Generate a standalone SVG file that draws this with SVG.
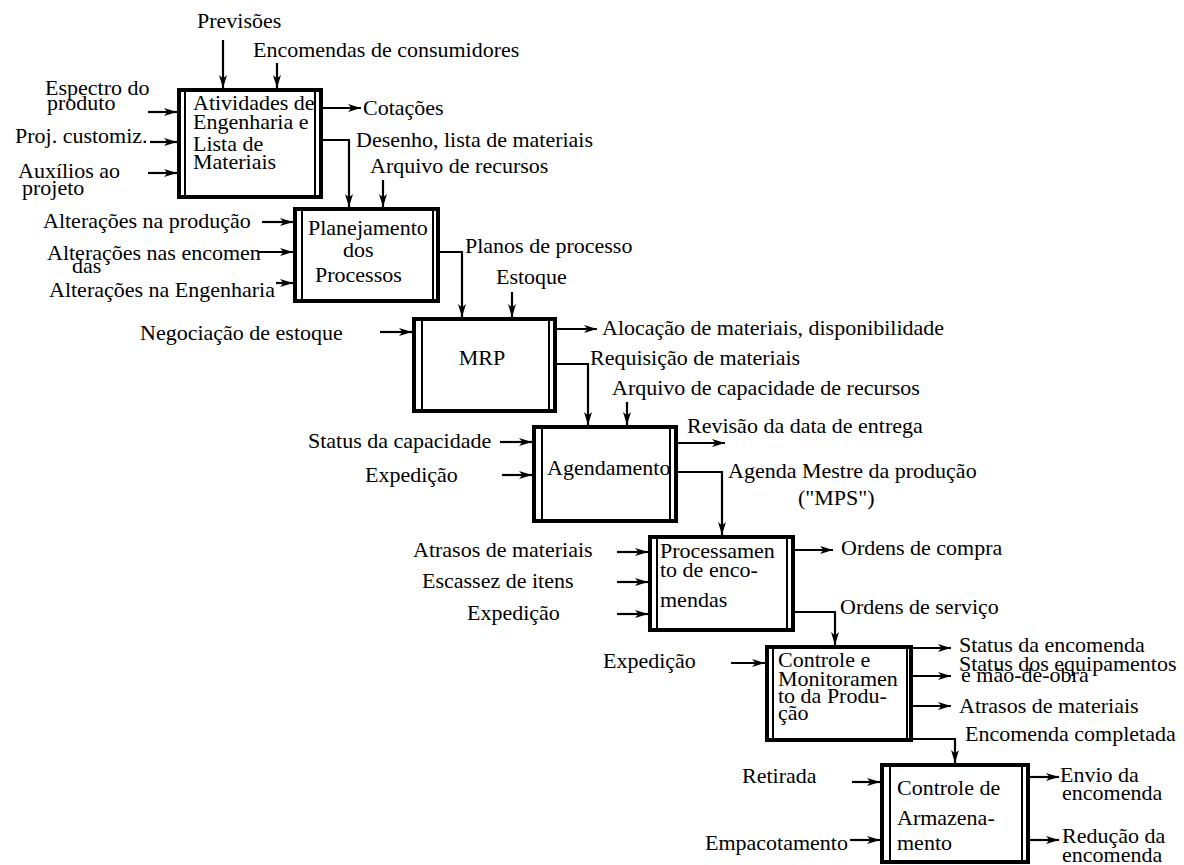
<svg xmlns="http://www.w3.org/2000/svg" width="1184" height="865" viewBox="0 0 1184 865" font-family="'Liberation Serif', 'Times New Roman', serif">
  <style>
    text { font-family: "Liberation Serif", "Times New Roman", serif; font-size: 22px; fill: #000; }
    .box { fill: #fff; stroke: #000; stroke-width: 4; }
    .inner { stroke: #000; stroke-width: 2; fill: none; }
    .flow { stroke: #000; stroke-width: 2.2; fill: none; marker-end: url(#arrow); }
  </style>
  <defs>
    <marker id="arrow" markerUnits="userSpaceOnUse" markerWidth="14" markerHeight="10" refX="13" refY="5" orient="auto">
      <path d="M0,1 L13,5 L0,9 L3.5,5 Z" fill="#000"/>
    </marker>
  </defs>
  <rect width="1184" height="865" fill="#fff"/>

  <!-- connectors: inputs, outputs and links between the activities -->
  <g id="connectors">
    <path class="flow" d="M223,40 V88"/>
    <path class="flow" d="M277,63 V88"/>
    <path class="flow" d="M148,112 H177"/>
    <path class="flow" d="M150,142 H177"/>
    <path class="flow" d="M148,173 H177"/>
    <path class="flow" d="M323,108 H361"/>
    <path class="flow" d="M323,140 H349 V207"/>
    <path class="flow" d="M383,180 V207"/>
    <path class="flow" d="M262,222 H293"/>
    <path class="flow" d="M258,252 H293"/>
    <path class="flow" d="M276,283 H293"/>
    <path class="flow" d="M440,252 H462 V317"/>
    <path class="flow" d="M512,292 V317"/>
    <path class="flow" d="M380,332 H412"/>
    <path class="flow" d="M557,329 H597"/>
    <path class="flow" d="M557,364 H588 V425"/>
    <path class="flow" d="M627,402 V425"/>
    <path class="flow" d="M500,442 H532"/>
    <path class="flow" d="M502,475 H532"/>
    <path class="flow" d="M678,443 H725"/>
    <path class="flow" d="M678,472 H722 V535"/>
    <path class="flow" d="M617,552 H648"/>
    <path class="flow" d="M617,582 H648"/>
    <path class="flow" d="M617,614 H648"/>
    <path class="flow" d="M795,550 H833"/>
    <path class="flow" d="M795,612 H835 V645"/>
    <path class="flow" d="M731,663 H765"/>
    <path class="flow" d="M913,648 H951"/>
    <path class="flow" d="M913,676 H951"/>
    <path class="flow" d="M913,706 H951"/>
    <path class="flow" d="M913,739 H955 V763"/>
    <path class="flow" d="M852,782 H880"/>
    <path class="flow" d="M850,840 H880"/>
    <path class="flow" d="M1030,777 H1059"/>
    <path class="flow" d="M1030,840 H1059"/>
  </g>

  <!-- connector labels -->
  <g id="labels">
    <text x="197" y="28">Previsões</text>
    <text x="253" y="57">Encomendas de consumidores</text>
    <text x="45" y="95">Espectro do</text>
    <text x="47" y="110">produto</text>
    <text x="15" y="143">Proj. customiz.</text>
    <text x="18" y="178">Auxílios ao</text>
    <text x="22" y="195">projeto</text>
    <text x="363" y="115">Cotações</text>
    <text x="356" y="147">Desenho, lista de materiais</text>
    <text x="370" y="173">Arquivo de recursos</text>
    <text x="43" y="228">Alterações na produção</text>
    <text x="47" y="260">Alterações nas encomen</text>
    <text x="72" y="273">das</text>
    <text x="49" y="297">Alterações na Engenharia</text>
    <text x="465" y="253">Planos de processo</text>
    <text x="496" y="284">Estoque</text>
    <text x="140" y="340">Negociação de estoque</text>
    <text x="602" y="335">Alocação de materiais, disponibilidade</text>
    <text x="590" y="365">Requisição de materiais</text>
    <text x="612" y="395">Arquivo de capacidade de recursos</text>
    <text x="308" y="448">Status da capacidade</text>
    <text x="365" y="482">Expedição</text>
    <text x="687" y="433">Revisão da data de entrega</text>
    <text x="728" y="478">Agenda Mestre da produção</text>
    <text x="798" y="505">("MPS")</text>
    <text x="413" y="557">Atrasos de materiais</text>
    <text x="422" y="588">Escassez de itens</text>
    <text x="467" y="620">Expedição</text>
    <text x="841" y="555">Ordens de compra</text>
    <text x="840" y="614">Ordens de serviço</text>
    <text x="603" y="668">Expedição</text>
    <text x="959" y="652">Status da encomenda</text>
    <text x="959" y="671">Status dos equipamentos</text>
    <text x="961" y="682">e mão-de-obra</text>
    <text x="959" y="713">Atrasos de materiais</text>
    <text x="965" y="741">Encomenda completada</text>
    <text x="742" y="783">Retirada</text>
    <text x="705" y="850">Empacotamento</text>
    <text x="1060" y="782">Envio da</text>
    <text x="1062" y="800">encomenda</text>
    <text x="1062" y="843">Redução da</text>
    <text x="1062" y="862">encomenda</text>
  </g>

  <!-- activity boxes -->
  <g id="engenharia">
    <rect class="box" x="179" y="90" width="142" height="107"/>
    <path class="inner" d="M185,90 V197 M315,90 V197"/>
    <text x="193" y="110">Atividades de</text>
    <text x="193" y="129">Engenharia e</text>
    <text x="193" y="151">Lista de</text>
    <text x="193" y="169">Materiais</text>
  </g>
  <g id="planejamento">
    <rect class="box" x="295" y="209" width="143" height="92"/>
    <path class="inner" d="M302,209 V301 M433,209 V301"/>
    <text x="308" y="235">Planejamento</text>
    <text x="343" y="257">dos</text>
    <text x="315" y="282">Processos</text>
  </g>
  <g id="mrp">
    <rect class="box" x="414" y="319" width="141" height="92"/>
    <path class="inner" d="M422,319 V411 M549,319 V411"/>
    <text x="482" y="365" text-anchor="middle">MRP</text>
  </g>
  <g id="agendamento">
    <rect class="box" x="534" y="427" width="142" height="94"/>
    <path class="inner" d="M542,427 V521 M670,427 V521"/>
    <text x="547" y="475">Agendamento</text>
  </g>
  <g id="processamento">
    <rect class="box" x="650" y="537" width="143" height="93"/>
    <path class="inner" d="M657,537 V630 M787,537 V630"/>
    <text x="660" y="558">Processamen</text>
    <text x="660" y="577">to de enco-</text>
    <text x="660" y="607">mendas</text>
  </g>
  <g id="controle-producao">
    <rect class="box" x="767" y="647" width="144" height="93"/>
    <path class="inner" d="M773,647 V740 M907,647 V740"/>
    <text x="778" y="667">Controle e</text>
    <text x="778" y="686">Monitoramen</text>
    <text x="778" y="703">to da Produ-</text>
    <text x="778" y="720">ção</text>
  </g>
  <g id="armazenamento">
    <rect class="box" x="882" y="765" width="146" height="97"/>
    <path class="inner" d="M890,765 V862 M1022,765 V862"/>
    <text x="897" y="795">Controle de</text>
    <text x="897" y="825">Armazena-</text>
    <text x="897" y="850">mento</text>
  </g>
</svg>
